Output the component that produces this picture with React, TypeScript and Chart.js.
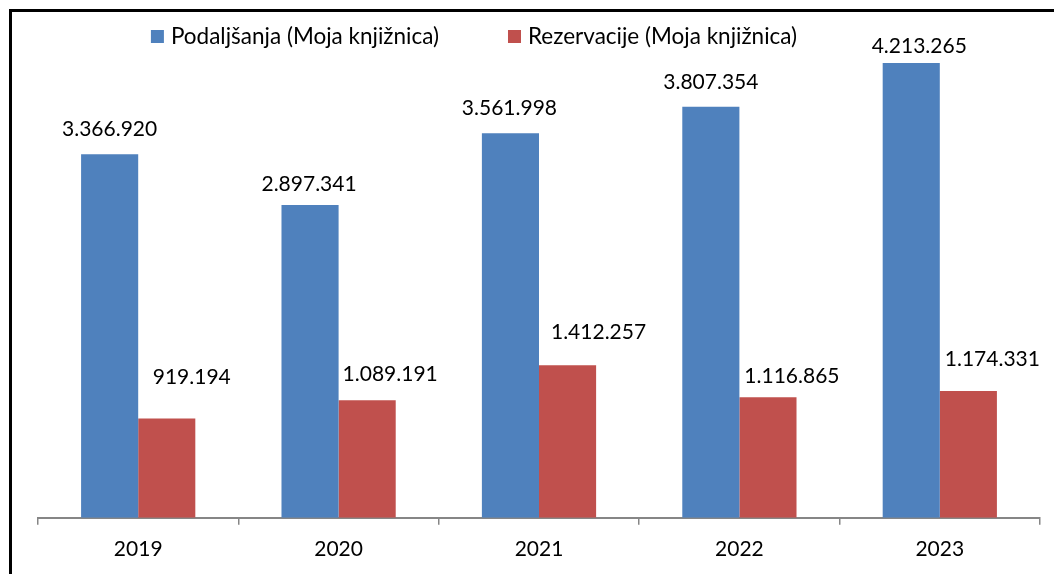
import React, { useEffect, useRef } from "react";
import { Chart, registerables } from "chart.js";

Chart.register(...registerables);

// ---- data ----
const categories = ["2019", "2020", "2021", "2022", "2023"];
const loansLabel = "Podaljšanja (Moja knjižnica)";
const reservationsLabel = "Rezervacije (Moja knjižnica)";
const loans = [3366920, 2897341, 3561998, 3807354, 4213265];
const reservations = [919194, 1089191, 1412257, 1116865, 1174331];
const yMin = 0;
const yMax = 4500000;

// ---- label nudges (dx, dy above bar top), as hand-placed in the original ----
const loansLabelNudge = [
  [0, 26],
  [-1, 22],
  [-1, 26],
  [0, 25],
  [8, 17],
];
const reservationsLabelNudge = [
  [25, 42],
  [23, 27],
  [31, 34],
  [24, 22],
  [24, 33],
];
const labelNudges = [loansLabelNudge, reservationsLabelNudge];

const FAMILY = "Lato, 'Open Sans', 'Noto Sans', sans-serif";
const FONT_SIZE = 21;
const LEGEND_FONT_SIZE = 22.5;
const BLUE = "#4F81BD";
const RED = "#C0504D";

const fmt = (n: number) => String(n).replace(/\B(?=(\d{3})+(?!\d))/g, ".");

const dataLabelPlugin = {
  id: "dataLabels",
  afterDatasetsDraw(chart: any) {
    const ctx = chart.ctx;
    ctx.save();
    ctx.font = `${FONT_SIZE}px ${FAMILY}`;
    ctx.fillStyle = "#000";
    ctx.textAlign = "center";
    ctx.textBaseline = "alphabetic";
    chart.data.datasets.forEach((ds: any, i: number) => {
      const meta = chart.getDatasetMeta(i);
      meta.data.forEach((el: any, j: number) => {
        const [dx, dy] = labelNudges[i][j];
        const cx = el.x + dx;
        const cy = el.y - dy;
        ctx.fillText(fmt(ds.data[j]), cx, cy + 7.5);
      });
    });
    ctx.restore();
  },
};

const legendPlugin = {
  id: "customLegend",
  afterDraw(chart: any) {
    const ctx = chart.ctx;
    ctx.save();
    ctx.font = `${LEGEND_FONT_SIZE}px ${FAMILY}`;
    ctx.textBaseline = "alphabetic";
    ctx.textAlign = "left";
    const box = 13;
    const boxGap = 7;
    const itemGap = 69;
    const items = chart.data.datasets.map((ds: any) => ({
      label: ds.label,
      color: ds.backgroundColor,
      w: ctx.measureText(ds.label).width,
    }));
    const total =
      items.reduce((s: number, it: any) => s + box + boxGap + it.w, 0) +
      itemGap * (items.length - 1);
    let x = 474 - total / 2;
    items.forEach((it: any) => {
      ctx.fillStyle = it.color;
      ctx.fillRect(x, 30, box, box);
      ctx.fillStyle = "#000";
      ctx.fillText(it.label, x + box + boxGap, 43.5);
      x += box + boxGap + it.w + itemGap;
    });
    ctx.restore();
  },
};

export default function App() {
  const ref = useRef<HTMLCanvasElement | null>(null);

  useEffect(() => {
    if (!ref.current) return;
    const chart = new Chart(ref.current, {
      type: "bar",
      data: {
        labels: categories,
        datasets: [
          {
            label: loansLabel,
            data: loans,
            backgroundColor: BLUE,
            borderWidth: 0,
            categoryPercentage: 0.57,
            barPercentage: 1,
          },
          {
            label: reservationsLabel,
            data: reservations,
            backgroundColor: RED,
            borderWidth: 0,
            categoryPercentage: 0.57,
            barPercentage: 1,
          },
        ],
      },
      options: {
        responsive: false,
        animation: false,
        layout: { padding: { left: 38, right: 14, top: 32, bottom: 0 } },
        plugins: {
          legend: { display: false },
          tooltip: { enabled: false },
        },
        scales: {
          x: {
            offset: true,
            grid: {
              display: true,
              drawOnChartArea: false,
              drawTicks: true,
              tickLength: 7,
              color: "#868686",
              lineWidth: 1.5,
              offset: true,
            },
            border: { display: true, color: "#868686", width: 2 },
            ticks: {
              color: "#000",
              font: { family: FAMILY, size: FONT_SIZE },
              padding: 12,
            },
          },
          y: { display: false, min: yMin, max: yMax },
        },
      },
      plugins: [dataLabelPlugin, legendPlugin],
    } as any);
    return () => chart.destroy();
  }, []);

  return (
    <div
      style={{
        position: "fixed",
        left: 0,
        top: 0,
        width: 1054,
        height: 574,
        overflow: "hidden",
        background: "#fff",
      }}
    >
      <div
        style={{
          position: "absolute",
          left: 9,
          top: 9,
          width: 1100,
          height: 620,
          border: "3px solid #000",
          boxSizing: "border-box",
        }}
      />
      <canvas
        ref={ref}
        width={1054}
        height={574}
        style={{ position: "absolute", left: 0, top: 0, display: "block" }}
      />
    </div>
  );
}
